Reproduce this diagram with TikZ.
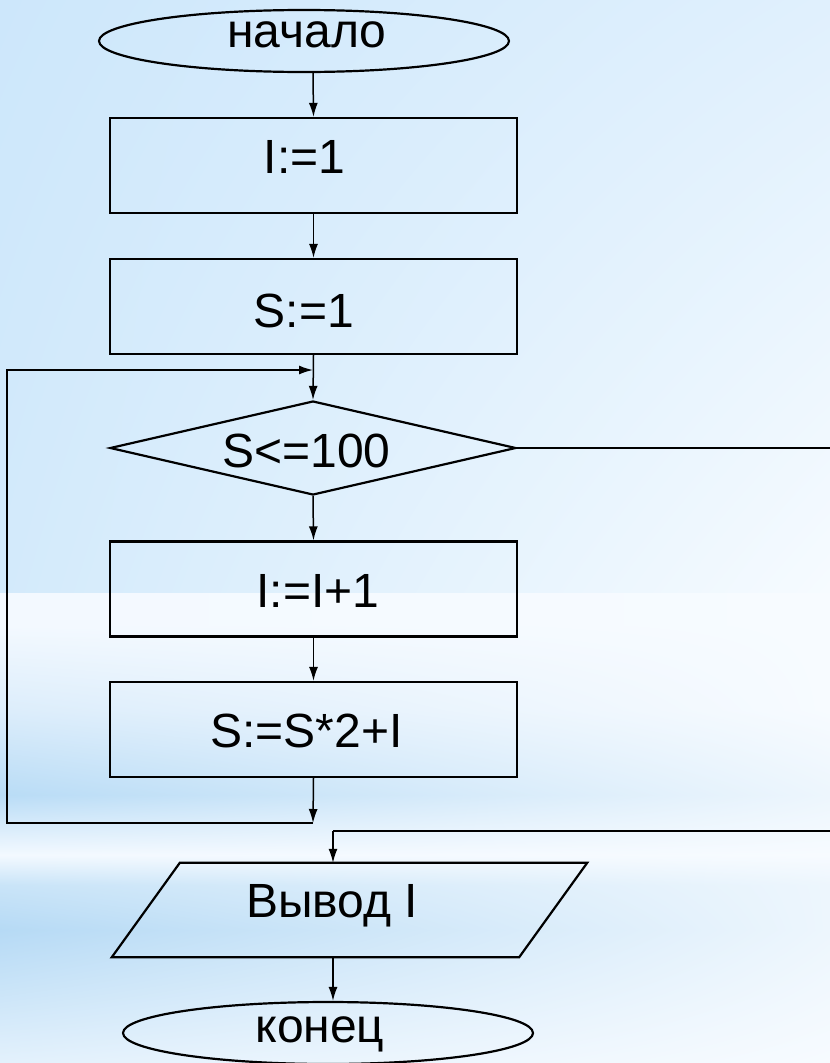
\documentclass[tikz,border=0pt]{standalone}
\usepackage{fontspec}
\setmainfont{Liberation Sans}
\usetikzlibrary{shapes.geometric,arrows.meta,shadings}
\definecolor{bgA}{HTML}{CDE7FB}
\definecolor{bgB}{HTML}{E0F0FD}
\definecolor{bgC}{HTML}{D3EAFB}
\definecolor{bgD}{HTML}{F6FBFF}
\definecolor{pale}{HTML}{F7FBFF}
\definecolor{paleB}{HTML}{EDF6FD}
\definecolor{bandW}{HTML}{F3F9FF}
\definecolor{bandM}{HTML}{DCEDFB}
\definecolor{bandB}{HTML}{B9DCF6}
\definecolor{bandC}{HTML}{C9E4F8}
\definecolor{bandD}{HTML}{B6DAF5}
\definecolor{bandE}{HTML}{E3F1FC}
\begin{document}
\begin{tikzpicture}[x=1pt,y=-1pt,
  txt/.style={font=\fontsize{48}{56}\selectfont, text=black, inner sep=0pt, anchor=base},
  shapeline/.style={draw=black, line width=2.2pt},
  term/.style={shapeline, ellipse, inner sep=0pt, minimum width=410pt, minimum height=62pt},
  proc/.style={shapeline, rectangle, inner sep=0pt, minimum width=407pt, minimum height=95pt},
  cond/.style={shapeline, diamond, aspect=4.3, inner sep=0pt, minimum width=406pt, minimum height=94pt},
  iobox/.style={rectangle, inner sep=0pt, minimum width=407pt, minimum height=94pt},
  conn/.style={draw=black, line width=1.5pt},
  arr/.style={conn, -{Latex[length=14pt,width=9pt]}}
]
\useasboundingbox (0,0) rectangle (830,1063);
% background
\shade[upper left=bgA, upper right=bgB, lower left=bgC, lower right=bgD] (0,0) rectangle (830,593);
\shade[upper left=bandW, upper right=pale, lower left=bandW, lower right=pale] (0,593) rectangle (830,625);
\shade[upper left=bandW, upper right=pale, lower left=bandM, lower right=pale] (0,625) rectangle (830,710);
\shade[upper left=bandM, upper right=pale, lower left=bandB, lower right=paleB] (0,710) rectangle (830,795);
\shade[upper left=bandB, upper right=paleB, lower left=bandW, lower right=pale] (0,795) rectangle (830,855);
\shade[upper left=bandW, upper right=pale, lower left=bandC, lower right=paleB] (0,855) rectangle (830,885);
\shade[upper left=bandC, upper right=paleB, lower left=bandD, lower right=paleB] (0,885) rectangle (830,930);
\shade[upper left=bandD, upper right=paleB, lower left=bandE, lower right=pale] (0,930) rectangle (830,1063);

% shapes
\node[term] (start) at (304,41) {};
\node[proc] (i1) at (313.5,165.5) {};
\node[proc] (s1) at (313.5,306.5) {};
\node[cond] (d) at (313,448) {};
\node[proc] (inc) at (313.5,589) {};
\node[proc] (s2) at (313.5,729.5) {};
\node[iobox] (out) at (349.5,910) {};
\draw[shapeline] ([xshift=34pt]out.north west) -- ([xshift=34pt]out.north east)
  -- ([xshift=-34pt]out.south east) -- ([xshift=-34pt]out.south west) -- cycle;
\node[term] (end) at (328,1033) {};

% texts
\node[txt] (startt) at (307,47) {начало};
\node[txt] (i1t) at (304.5,173) {I:=1};
\node[txt] (s1t) at (304,327) {S:=1};
\node[txt] (dt) at (306.5,467) {S<=100};
\node[txt] (inct) at (318,607) {I:=I+1};
\node[txt] (s2t) at (306.5,747) {S:=S*2+I};
\node[txt] (outt) at (332,917) {Вывод I};
\node[txt] (endt) at (320,1042) {конец};

% helper coordinates
\coordinate (cx) at (313,0);
\coordinate (lb) at (313,823);
\coordinate (ll) at (7,823);
\coordinate (lt) at (7,370);
\coordinate (lj) at (313,370);
\coordinate (r1) at (845,448);
\coordinate (r2) at (845,831);
\coordinate (jin) at (333,831);

% connectors
\draw[arr] (cx |- start.south) -- (i1.north);
\draw[arr] (i1.south) -- (s1.north);
\draw[arr] (s1.south) -- (d.north);
\draw[arr] (d.south) -- (inc.north);
\draw[arr] (inc.south) -- (s2.north);
\draw[arr] (s2.south) -- (lb);
\draw[arr] (lb) -- (ll) -- (lt) -- (lj);
\draw[conn, line width=2pt] (d.east) -- (r1) -- (r2) -- (jin);
\draw[arr] (jin) -- (jin |- out.north);
\draw[arr] (jin |- out.south) -- (jin |- end.north);
\end{tikzpicture}
\end{document}
